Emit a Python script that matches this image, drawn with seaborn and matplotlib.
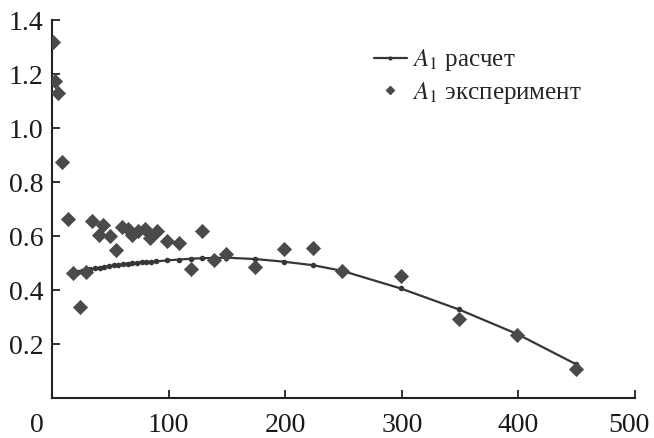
import matplotlib
matplotlib.use('Agg')
import matplotlib.pyplot as plt
import matplotlib.transforms as mtransforms
from matplotlib.lines import Line2D
import pandas as pd
import seaborn as sns

# calculated A1 (line with dots)
calc_x = [18, 22, 26, 29, 33, 37, 41, 45, 49, 53, 57, 61, 65, 69, 73, 77, 81, 85, 89,
          99, 109, 119, 129, 139, 149, 174, 199, 224, 249, 299, 349, 399, 449]
calc_y = [0.462, 0.466, 0.470, 0.473, 0.477, 0.480, 0.483, 0.486, 0.489, 0.491, 0.494,
          0.496, 0.498, 0.500, 0.501, 0.503, 0.504, 0.505, 0.506,
          0.510, 0.513, 0.516, 0.518, 0.519, 0.520, 0.515, 0.505, 0.492, 0.471,
          0.406, 0.328, 0.237, 0.126]

# experimental A1 (diamonds)
exp_x = [1, 3, 5, 9, 14, 18, 24, 29, 34, 40, 44, 50, 55, 60, 65, 69, 74, 80, 84, 90,
         99, 109, 119, 129, 139, 149, 174, 199, 224, 249, 299, 349, 399, 449]
exp_y = [1.32, 1.175, 1.13, 0.875, 0.662, 0.464, 0.338, 0.468, 0.657, 0.604, 0.641,
         0.600, 0.548, 0.634, 0.625, 0.604, 0.619, 0.628, 0.591, 0.620,
         0.583, 0.575, 0.477, 0.619, 0.513, 0.535, 0.486, 0.551, 0.554, 0.471,
         0.452, 0.291, 0.233, 0.106]

x_ticks = [0, 100, 200, 300, 400, 500]
y_ticks = [0.2, 0.4, 0.6, 0.8, 1.0, 1.2, 1.4]

calc = pd.DataFrame({'x': calc_x, 'y': calc_y})
exp = pd.DataFrame({'x': exp_x, 'y': exp_y})

sns.set_style('ticks')
plt.rcParams['font.family'] = ['Liberation Serif', 'DejaVu Serif']
plt.rcParams['mathtext.fontset'] = 'stix'

line_col = '#363636'
dot_col = '#4a4a4a'

fig = plt.figure(figsize=(6.54, 4.38), dpi=100)
ax = fig.add_axes([0.0795, 0.0913, 0.8915, 0.8627])

sns.lineplot(data=calc, x='x', y='y', ax=ax, color=line_col, linewidth=1.6,
             marker='o', markersize=4, markeredgewidth=0, markerfacecolor=line_col)
sns.scatterplot(data=exp, x='x', y='y', ax=ax, color=dot_col, marker='D', s=52,
                edgecolor=dot_col, linewidth=0.5, zorder=3)

ax.set_xlim(0, 500)
ax.set_ylim(0, 1.4)
ax.set_xticks(x_ticks)
ax.set_yticks(y_ticks)
ax.set_xticklabels([str(t) for t in x_ticks])
ax.set_yticklabels(['%.1f' % t for t in y_ticks])
ax.set_xlabel('')
ax.set_ylabel('')

for side in ['top', 'right']:
    ax.spines[side].set_visible(False)
for side in ['left', 'bottom']:
    ax.spines[side].set_linewidth(1.5)
    ax.spines[side].set_color('#222222')

ax.tick_params(axis='both', direction='in', length=6, width=1.3, colors='#222222',
               labelsize=20, labelcolor='#1a1a1a')
ax.tick_params(axis='y', pad=6)
ax.tick_params(axis='x', pad=11)

# the "0" sits a bit left of the origin, the "500" is pulled in from the edge
xlbls = ax.get_xticklabels()
xlbls[0].set_transform(xlbls[0].get_transform() +
                       mtransforms.ScaledTranslation(-0.15, 0, fig.dpi_scale_trans))
xlbls[-1].set_transform(xlbls[-1].get_transform() +
                        mtransforms.ScaledTranslation(-0.06, 0, fig.dpi_scale_trans))

handles = [
    Line2D([], [], color=line_col, linewidth=1.6, marker='o', markersize=3,
           markeredgewidth=0),
    Line2D([], [], color=dot_col, linestyle='none', marker='D', markersize=4),
]
labels = [r'$A_1$ расчет', r'$A_1$ эксперимент']
fig.legend(handles, labels, loc='upper left', bbox_to_anchor=(0.572, 0.892),
           frameon=False, fontsize=18, handlelength=1.3, handletextpad=0.2,
           labelspacing=0.25, borderpad=0, borderaxespad=0)

fig.savefig('out.png', dpi=100)
